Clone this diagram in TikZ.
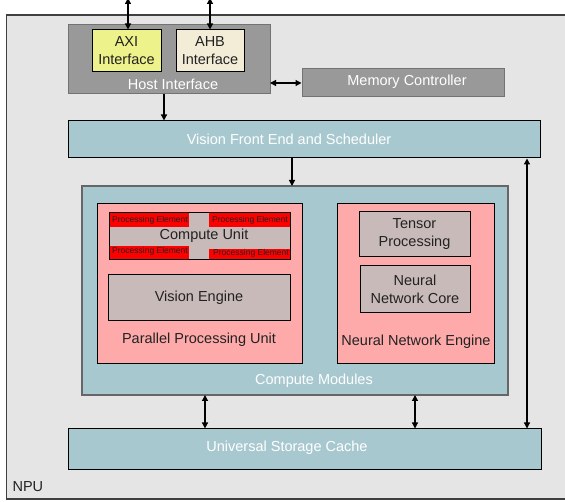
\documentclass[tikz,border=0pt]{standalone}
\usepackage{fontspec}
\setmainfont{Liberation Sans}
\usetikzlibrary{arrows.meta}
\definecolor{npubg}{HTML}{E5E5E5}
\definecolor{hostgray}{HTML}{999999}
\definecolor{vblue}{HTML}{A8C8D0}
\definecolor{pinkbg}{HTML}{FFAAAA}
\definecolor{rosegray}{HTML}{C9BABA}
\definecolor{axiy}{HTML}{EEF28A}
\definecolor{ahbc}{HTML}{F3EDD8}
\definecolor{txtdark}{HTML}{222222}
\tikzset{
  arr/.style={-{Triangle[length=6pt,width=6pt]}, line width=1.2pt},
  darr/.style={{Triangle[length=6pt,width=6pt]}-{Triangle[length=6pt,width=6pt]}, line width=1.2pt},
  wlab/.style={text=white, font=\fontsize{14.5}{17}\selectfont},
  dlab/.style={text=txtdark, font=\fontsize{14.5}{18}\selectfont, align=center},
  pelab/.style={text=txtdark, font=\fontsize{8.5}{9}\selectfont, inner sep=0pt},
}
\begin{document}
\begin{tikzpicture}[x=1pt,y=-1pt]
\useasboundingbox (0,0) rectangle (565,502);
\clip (0,0) rectangle (565,502);
% NPU outer
\draw[fill=npubg, draw=black!75, line width=1.5pt] (6.5,15) rectangle (570,499);
\node[text=txtdark, font=\fontsize{14.5}{17}\selectfont, anchor=west] (npu) at (9,487) {NPU};
% Host interface
\draw[fill=hostgray, draw=black!55, line width=1pt] (68,25) rectangle (270,94);
\coordinate (hostS) at (164,94);
\coordinate (hostE) at (270,83);
\node[wlab] (hostlab) at (173,84) {Host Interface};
\node[draw=black, line width=1pt, fill=axiy, minimum width=69pt, minimum height=42pt, inner sep=0pt, dlab] (axi) at (126.5,51) {AXI\\Interface};
\node[draw=black, line width=1pt, fill=ahbc, minimum width=68pt, minimum height=42pt, inner sep=0pt, dlab] (ahb) at (210,51) {AHB\\Interface};
\coordinate (axiT) at (128,-2);
\coordinate (ahbT) at (210,-2);
\draw[darr] (axiT) -- (axi.north -| axiT);
\draw[darr] (ahbT) -- (ahb.north -| ahbT);
% Memory controller
\node[draw=black!55, line width=1pt, fill=hostgray, minimum width=202pt, minimum height=28pt, inner sep=0pt] (mem) at (403,83) {};
\node[wlab] (memlab) at (407,82) {Memory Controller};
\draw[darr] (hostE) -- (mem.west);
% Vision front end
\node[draw=black, line width=1pt, fill=vblue, minimum width=472pt, minimum height=37pt, inner sep=0pt] (vfe) at (304,139.5) {};
\node[wlab] (vfelab) at (289,139) {Vision Front End and Scheduler};
\draw[arr] (hostS) -- (hostS |- vfe.north);
% Compute modules
\draw[fill=vblue, draw=black!60, line width=1.2pt] (82,186) rectangle (508,395);
\coordinate (cmN) at (292,186);
\coordinate (cmS1) at (205,395);
\coordinate (cmS2) at (415,395);
\node[wlab] (cmlab) at (314,381) {Compute Modules};
\draw[arr] (vfe.south -| cmN) -- (cmN);
% Parallel processing unit
\draw[fill=pinkbg, draw=black, line width=1pt] (97,204) rectangle (302,364);
\node[dlab] (ppulab) at (199,340) {Parallel Processing Unit};
% Compute unit
\draw[fill=rosegray, draw=black, line width=1pt] (109,213) rectangle (290,260);
\fill[red] (109.5,213.5) rectangle (189,227);
\fill[red] (209,213.5) rectangle (289.5,227);
\fill[red] (109.5,246) rectangle (189,259.5);
\fill[red] (209,249) rectangle (289.5,259.5);
\draw[black, line width=1pt] (109,213) rectangle (290,260);
\node[pelab] (pe1) at (150,220) {Processing Element};
\node[pelab] (pe2) at (250,220) {Processing Element};
\node[pelab] (pe3) at (150,251.5) {Processing Element};
\node[pelab] (pe4) at (251,253.5) {Processing Element};
\node[dlab] (culab) at (204,236) {Compute Unit};
% Vision engine
\node[draw=black, line width=1pt, fill=rosegray, minimum width=182pt, minimum height=46pt, inner sep=0pt, dlab] (ve) at (199,298) {Vision Engine};
% Neural network engine
\draw[fill=pinkbg, draw=black, line width=1pt] (337,204) rectangle (494,364);
\node[dlab] (nnelab) at (416,342) {Neural Network Engine};
\node[draw=black, line width=1pt, fill=rosegray, minimum width=111pt, minimum height=45pt, inner sep=0pt, dlab] (tp) at (414.5,234.5) {Tensor\\Processing};
\node[draw=black, line width=1pt, fill=rosegray, minimum width=110pt, minimum height=47pt, inner sep=0pt, dlab] (nnc) at (415,289.5) {Neural\\Network Core};
% Universal storage cache
\node[draw=black, line width=1pt, fill=vblue, minimum width=473pt, minimum height=40pt, inner sep=0pt] (usc) at (304.5,449) {};
\node[wlab] (usclab) at (287,448) {Universal Storage Cache};
\draw[darr] (cmS1) -- (cmS1 |- usc.north);
\draw[darr] (cmS2) -- (cmS2 |- usc.north);
\coordinate (rx) at (527,300);
\draw[darr] (rx |- vfe.south) -- (rx |- usc.north);
\end{tikzpicture}
\end{document}
